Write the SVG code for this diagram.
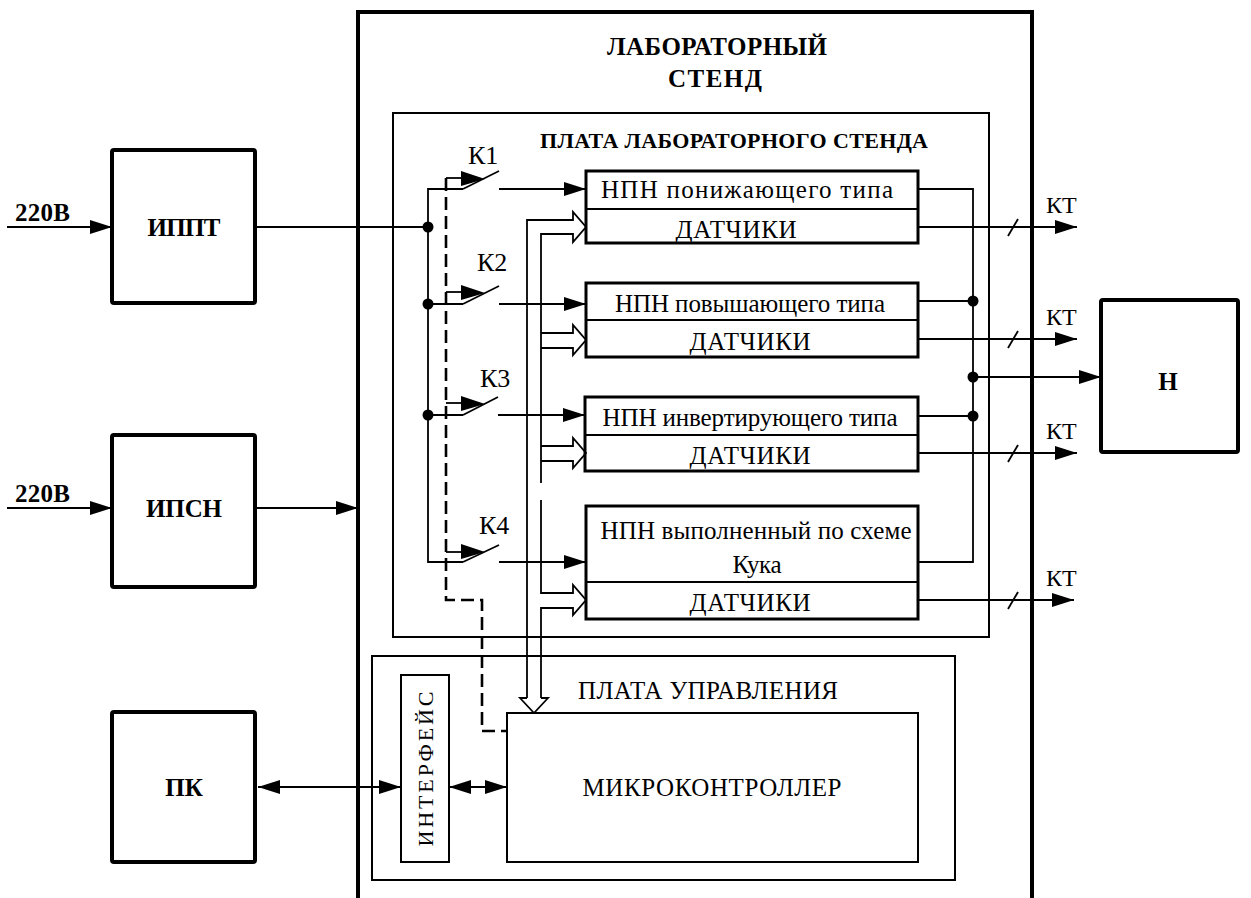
<svg xmlns="http://www.w3.org/2000/svg" width="1251" height="898" viewBox="0 0 1251 898">
<style>
text{font-family:"Liberation Serif","DejaVu Serif",serif;fill:#000}
.b{font-weight:bold}
.t{font-size:24px}
.k{font-size:26px}
.bx{font-size:25px}
.ln{fill:none;stroke:#000;stroke-width:1.8}
.thick{fill:none;stroke:#000;stroke-width:4}
.box{fill:#fff;stroke:#000;stroke-width:3}
.thin{fill:none;stroke:#000;stroke-width:2}
.dash{fill:none;stroke:#000;stroke-width:2.6;stroke-dasharray:13,6}
.dot{fill:#000}
</style>
<defs>
<marker id="arr" viewBox="0 0 22 14" refX="22" refY="7" markerWidth="22" markerHeight="14" markerUnits="userSpaceOnUse" orient="auto-start-reverse"><path d="M0,0 L22,7 L0,14 z"/></marker>
</defs>
<rect width="1251" height="898" fill="#fff"/>
<g font-family="Liberation Serif, DejaVu Serif, serif">

<g id="stend">
<rect class="thick" x="358" y="12" width="674" height="900"/>
<text class="b" x="717" y="55" font-size="25" text-anchor="middle" textLength="220">ЛАБОРАТОРНЫЙ</text>
<text class="b" x="715" y="87" font-size="25" text-anchor="middle" textLength="94">СТЕНД</text>
</g>
<g id="plata-stenda">
<rect class="thin" x="393" y="113" width="596" height="524"/>
<text class="b" x="734" y="148" font-size="22" text-anchor="middle" textLength="388">ПЛАТА ЛАБОРАТОРНОГО СТЕНДА</text>
</g>
<g id="plata-upr">
<rect class="thin" x="372" y="656" width="583" height="224"/>
<text x="708" y="699" font-size="25" text-anchor="middle" textLength="260">ПЛАТА УПРАВЛЕНИЯ</text>
</g>

<g id="ippt"><rect class="thick" x="112" y="150" width="143" height="153" rx="2"/><text class="b" font-size="25" x="184" y="236" text-anchor="middle" textLength="73">ИППТ</text></g>
<g id="ipsn"><rect class="thick" x="112" y="435" width="143" height="152" rx="2"/><text class="b" font-size="25" x="184" y="517" text-anchor="middle" textLength="76">ИПСН</text></g>
<g id="pk"><rect class="thick" x="112" y="712" width="143" height="150" rx="2"/><text class="b" font-size="25" x="184" y="796" text-anchor="middle">ПК</text></g>
<g id="n"><rect class="thick" x="1101" y="300" width="137" height="152" rx="2"/><text class="b" font-size="25" x="1168" y="390" text-anchor="middle">Н</text></g>

<g id="npn1"><rect class="box" x="586" y="171" width="332" height="72"/><line class="thin" x1="586" y1="209" x2="918" y2="209"/><text class="bx" x="601" y="198" textLength="292">НПН понижающего типа</text><text class="bx" x="736" y="238" text-anchor="middle" textLength="121">ДАТЧИКИ</text></g>
<g id="npn2"><rect class="box" x="586" y="283" width="332" height="74"/><line class="thin" x1="586" y1="320" x2="918" y2="320"/><text class="bx" x="750" y="312" text-anchor="middle" textLength="270">НПН повышающего типа</text><text class="bx" x="750" y="350" text-anchor="middle" textLength="121">ДАТЧИКИ</text></g>
<g id="npn3"><rect class="box" x="585" y="397" width="333" height="74"/><line class="thin" x1="585" y1="435" x2="918" y2="435"/><text class="bx" x="750" y="426" text-anchor="middle" textLength="295">НПН инвертирующего типа</text><text class="bx" x="750" y="464" text-anchor="middle" textLength="121">ДАТЧИКИ</text></g>
<g id="npn4"><rect class="box" x="586" y="506" width="332" height="113"/><line class="thin" x1="586" y1="582" x2="918" y2="582"/><text class="bx" x="756" y="539" text-anchor="middle" textLength="311">НПН выполненный по схеме</text><text class="bx" x="757" y="573" text-anchor="middle" textLength="49">Кука</text><text class="bx" x="750" y="611" text-anchor="middle" textLength="121">ДАТЧИКИ</text></g>

<g id="mk"><rect class="thin" x="507" y="713" width="411" height="149" fill="#fff"/><text font-size="25" x="712" y="796" text-anchor="middle" textLength="259">МИКРОКОНТРОЛЛЕР</text></g>
<g id="interface"><rect class="thin" x="401" y="675" width="48" height="187" fill="#fff"/><text font-size="22" transform="translate(433,769) rotate(-90)" text-anchor="middle" textLength="155" lengthAdjust="spacing">ИНТЕРФЕЙС</text></g>

<g id="labels">
<text class="b" x="15" y="221" font-size="25" textLength="55">220В</text>
<text class="b" x="15" y="502" font-size="25" textLength="55">220В</text>
<text class="k" x="468" y="164">К1</text>
<text class="k" x="477" y="271">К2</text>
<text class="k" x="480" y="387">К3</text>
<text class="k" x="479" y="534">К4</text>
<text class="t" x="1046" y="213">КТ</text>
<text class="t" x="1046" y="325">КТ</text>
<text class="t" x="1046" y="439">КТ</text>
<text class="t" x="1046" y="586">КТ</text>
</g>

<g id="connectors">
<line class="ln" x1="7" y1="227" x2="112" y2="227" marker-end="url(#arr)"/>
<line class="ln" x1="7" y1="508" x2="112" y2="508" marker-end="url(#arr)"/>
<line class="ln" x1="255" y1="508" x2="358" y2="508" marker-end="url(#arr)"/>
<line class="ln" x1="258" y1="787" x2="401" y2="787" marker-start="url(#arr)" marker-end="url(#arr)"/>
<line class="ln" x1="449" y1="787" x2="507" y2="787" marker-start="url(#arr)" marker-end="url(#arr)"/>
<line class="ln" x1="255" y1="227" x2="428" y2="227"/>
<path class="ln" d="M463,189 H428 V562 H463"/>
<line class="ln" x1="428" y1="304" x2="463" y2="304"/>
<line class="ln" x1="428" y1="415" x2="463" y2="415"/>
<circle class="dot" cx="428" cy="227" r="5.5"/>
<circle class="dot" cx="428" cy="304" r="5.5"/>
<circle class="dot" cx="428" cy="415" r="5.5"/>
<g id="k1"><line class="ln" x1="463" y1="189" x2="499" y2="171"/><path d="M461,171 L461,186 L485,179 z"/><line class="ln" x1="446" y1="178" x2="461" y2="178"/><line class="ln" x1="499" y1="189" x2="586" y2="189" marker-end="url(#arr)"/></g>
<g id="k2"><line class="ln" x1="463" y1="304" x2="499" y2="286"/><path d="M461,285 L461,300 L485,293 z"/><line class="ln" x1="446" y1="292" x2="461" y2="292"/><line class="ln" x1="499" y1="304" x2="586" y2="304" marker-end="url(#arr)"/></g>
<g id="k3"><line class="ln" x1="463" y1="415" x2="498" y2="397"/><path d="M461,396 L461,411 L485,404 z"/><line class="ln" x1="446" y1="403" x2="461" y2="403"/><line class="ln" x1="498" y1="415" x2="585" y2="415" marker-end="url(#arr)"/></g>
<g id="k4"><line class="ln" x1="463" y1="562" x2="499" y2="545"/><path d="M461,544 L461,559 L485,552 z"/><line class="ln" x1="446" y1="552" x2="461" y2="552"/><line class="ln" x1="499" y1="562" x2="586" y2="562" marker-end="url(#arr)"/></g>
<path class="dash" d="M446,178 V600 H482 V731 H507"/>
<path class="ln" d="M527,698 V220 H573 V212 L586,227 L573,242 V234 H541 V483"/>
<path class="ln" d="M541,333 H573 V325 L586,340 L573,355 V348 H541"/>
<path class="ln" d="M541,446 H573 V438 L586,453 L573,468 V461 H541"/>
<path class="ln" d="M541,500 V593 H573 V585 L586,600 L573,615 V608 H541 V698"/>
<path class="ln" d="M527,698 H520 L534,713 L548,698 H541"/>
<path class="ln" d="M918,189 H973 V562 H918"/>
<line class="ln" x1="918" y1="301" x2="973" y2="301"/>
<line class="ln" x1="918" y1="416" x2="973" y2="416"/>
<circle class="dot" cx="973" cy="301" r="5.5"/>
<circle class="dot" cx="973" cy="416" r="5.5"/>
<circle class="dot" cx="973" cy="377" r="5.5"/>
<line class="ln" x1="973" y1="377" x2="1101" y2="377" marker-end="url(#arr)"/>
<line class="ln" x1="918" y1="227" x2="1077" y2="227" marker-end="url(#arr)"/>
<line class="ln" x1="918" y1="339" x2="1077" y2="339" marker-end="url(#arr)"/>
<line class="ln" x1="918" y1="453" x2="1077" y2="453" marker-end="url(#arr)"/>
<line class="ln" x1="918" y1="600" x2="1074" y2="600" marker-end="url(#arr)"/>
<line class="ln" x1="1008" y1="236" x2="1018" y2="219"/>
<line class="ln" x1="1008" y1="348" x2="1018" y2="331"/>
<line class="ln" x1="1008" y1="462" x2="1018" y2="445"/>
<line class="ln" x1="1008" y1="609" x2="1018" y2="592"/>
</g>
</g>
</svg>
